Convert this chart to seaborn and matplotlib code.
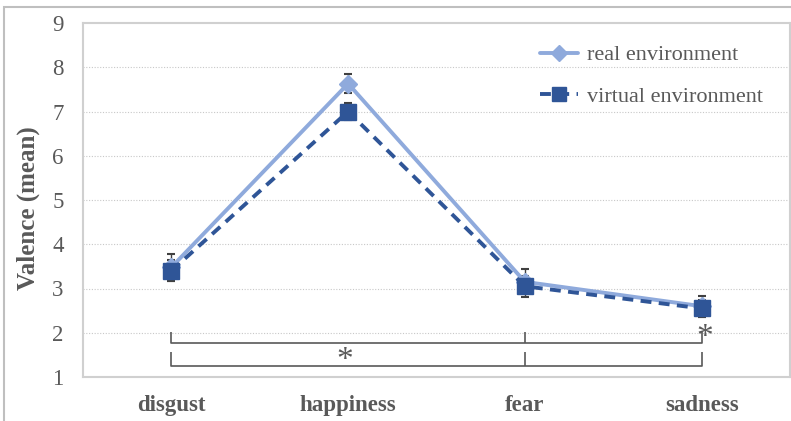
import numpy as np
import pandas as pd
import matplotlib
matplotlib.use("Agg")
import matplotlib.pyplot as plt
from matplotlib.lines import Line2D
from matplotlib.patches import Rectangle
import seaborn as sns

categories = ["disgust", "happiness", "fear", "sadness"]
real_mean = [3.48, 7.63, 3.15, 2.60]
real_err = [0.30, 0.21, 0.28, 0.24]
virtual_mean = [3.40, 7.00, 3.05, 2.55]
virtual_err = [0.24, 0.20, 0.24, 0.20]
series_names = ["real environment", "virtual environment"]
y_ticks = [1, 2, 3, 4, 5, 6, 7, 8, 9]

sns.set_theme(style="white")
plt.rcParams["font.family"] = ["Liberation Serif", "DejaVu Serif"]

c_real = "#8FAADC"
c_virt = "#2F5597"
gray = "#595959"

df = pd.DataFrame({
    "x": list(range(len(categories))) * 2,
    "valence": real_mean + virtual_mean,
    "env": [series_names[0]] * 4 + [series_names[1]] * 4,
})

fig = plt.figure(figsize=(7.91, 4.21), dpi=100)
ax = fig.add_axes([83 / 791, 44 / 421, 707 / 791, 354 / 421])

sns.lineplot(data=df, x="x", y="valence", hue="env", style="env",
             palette=[c_real, c_virt], dashes=[(None, None), (2.8, 1.9)],
             markers=["D", "s"], markersize=0, linewidth=2.8, ax=ax,
             legend=False, zorder=3)

xs = np.arange(len(categories))
ax.errorbar(xs, real_mean, yerr=real_err, fmt="none", ecolor="#404040",
            elinewidth=1.0, capsize=3.0, capthick=1.5, zorder=2)
ax.errorbar(xs, virtual_mean, yerr=virtual_err, fmt="none", ecolor="#404040",
            elinewidth=1.0, capsize=3.0, capthick=1.5, zorder=2)
ax.plot(xs, real_mean, linestyle="none", marker="D", markersize=9.5,
        color=c_real, zorder=4)
ax.plot(xs, virtual_mean, linestyle="none", marker="s", markersize=11,
        color=c_virt, zorder=5)

ax.set_xlim(-0.5, 3.5)
ax.set_ylim(1, 9)
ax.set_yticks(y_ticks)
ax.set_yticklabels([str(t) for t in y_ticks], fontsize=16.5, color=gray)
ax.set_xticks(xs)
ax.set_xticklabels(categories, fontsize=16.5, fontweight="bold", color=gray)
ax.tick_params(axis="both", length=0)
ax.tick_params(axis="x", pad=13)
ax.tick_params(axis="y", pad=14)
ax.set_xlabel("")
ax.set_ylabel("Valence (mean)", fontsize=18, fontweight="bold", color=gray,
              labelpad=9)
ax.yaxis.label.set_y(0.477)

for t in y_ticks[1:-1]:
    ax.axhline(t, color="#C8C8C8", linestyle=(0, (1, 1.5)), linewidth=0.8,
               zorder=0)
for s in ax.spines.values():
    s.set_color("#D0D0D0")
    s.set_linewidth(1.5)

# significance brackets
bk = dict(color=gray, linewidth=1.2, zorder=1, solid_capstyle="butt")
ax.plot([0, 0, 3, 3], [2.02, 1.77, 1.77, 2.02], **bk)
ax.plot([2, 2], [1.77, 2.02], **bk)
ax.plot([0, 0, 3, 3], [1.57, 1.25, 1.25, 1.57], **bk)
ax.plot([2, 2], [1.25, 1.57], **bk)
ax.text(0.98, 1.36, "*", fontsize=24, color=gray, ha="center", va="center")
ax.text(3.02, 1.88, "*", fontsize=24, color=gray, ha="center", va="center")

handles = [
    Line2D([], [], color=c_real, linewidth=2.8, marker="D", markersize=8),
    Line2D([], [], color=c_virt, linewidth=2.8, linestyle=(0, (2.8, 1.9)),
           marker="s", markersize=10),
]
leg = ax.legend(handles, series_names, loc="upper right",
                bbox_to_anchor=(0.99, 0.995), frameon=False, fontsize=16,
                labelspacing=0.95, handlelength=1.7, handletextpad=0.4)
for t in leg.get_texts():
    t.set_color(gray)

# outer frame
fig.patches.append(Rectangle((4 / 791, -0.2), 1.2, 1.2 - 7 / 421,
                             transform=fig.transFigure, fill=False,
                             edgecolor="#BFBFBF", linewidth=1.5))

fig.savefig("out.png", dpi=100)
